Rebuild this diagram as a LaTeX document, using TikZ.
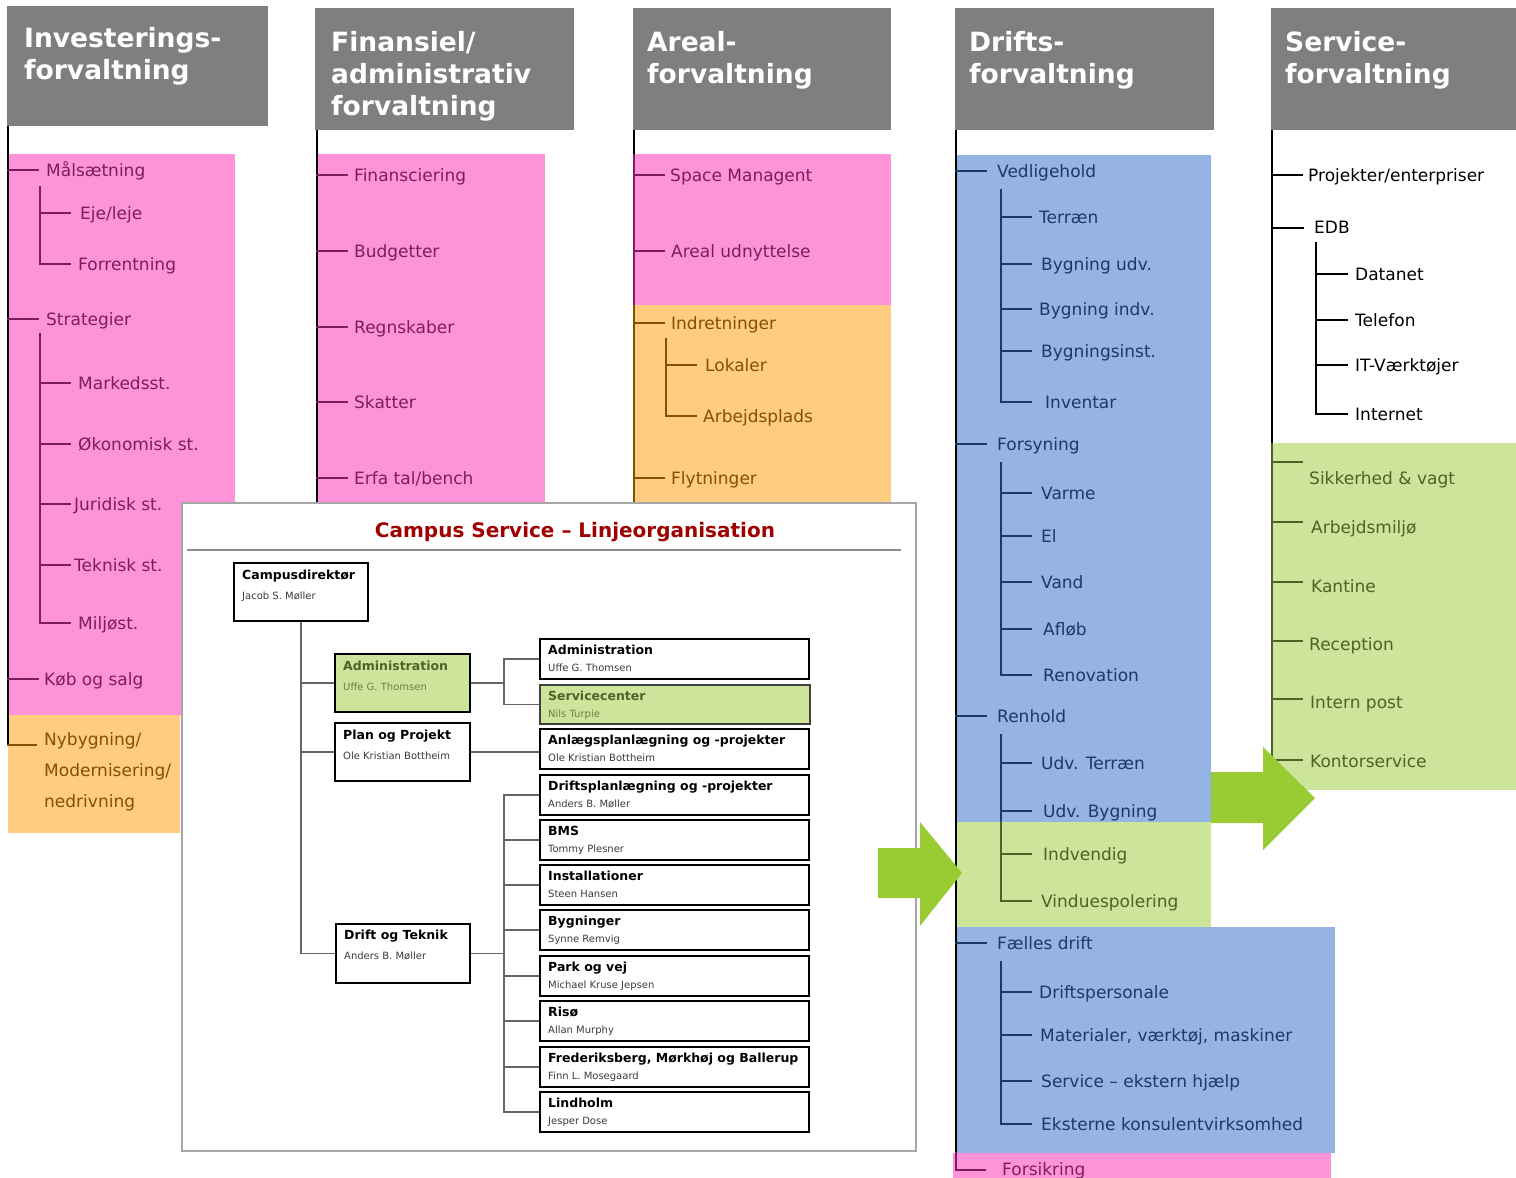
\documentclass[tikz,border=0pt]{standalone}
\usepackage{fontspec}
\setmainfont{DejaVu Sans}
\usetikzlibrary{calc}

\definecolor{headgray}{HTML}{7F7F7F}
\definecolor{pinkbg}{HTML}{FF93D9}
\definecolor{pinktx}{HTML}{7A1E5E}
\definecolor{orangebg}{HTML}{FFCC80}
\definecolor{orangetx}{HTML}{7F5300}
\definecolor{bluebg}{HTML}{95B3E3}
\definecolor{bluetx}{HTML}{1F3864}
\definecolor{greenbg}{HTML}{CDE49B}
\definecolor{greentx}{HTML}{4F6228}
\definecolor{greenname}{HTML}{6E7F45}
\definecolor{arrowgreen}{HTML}{99CC33}
\definecolor{titlered}{HTML}{A00000}
\definecolor{framegray}{HTML}{A6A6A6}
\definecolor{rulegray}{HTML}{8C8C8C}
\definecolor{linkgray}{HTML}{666666}
\definecolor{namegray}{HTML}{3A3A3A}

\begin{document}
\begin{tikzpicture}[x=1pt, y=-1pt,
  headbox/.style={fill=headgray, draw=none, anchor=north west, inner sep=0pt},
  headtext/.style={anchor=north west, inner sep=0pt, text=white, align=left,
    font=\fontsize{26.5}{32}\selectfont\bfseries},
  lbl/.style={anchor=west, inner sep=0pt, font=\fontsize{17}{20}\selectfont,
    text height=12pt, text depth=0pt},
  multilbl/.style={anchor=north west, inner sep=0pt, align=left,
    font=\fontsize{17}{31}\selectfont},
  trunk/.style={line width=2pt, draw=black},
  twig/.style={line width=2pt, line cap=rect},
  obox/.style={draw=black, line width=2pt, fill=white, anchor=north west, inner sep=0pt},
  otitle/.style={anchor=base west, inner sep=0pt, font=\fontsize{12.5}{14}\selectfont\bfseries},
  oname/.style={anchor=base west, inner sep=0pt, font=\fontsize{10}{12}\selectfont, text=namegray},
  olink/.style={draw=linkgray, line width=1.3pt},
  bigarrow/.style={fill=arrowgreen, draw=none}
]
\useasboundingbox (0,0) rectangle (1516,1178);

% ---------- coloured bands behind the trees
\fill[pinkbg] (8,154) rectangle (235,715);
\fill[orangebg] (8,715) rectangle (180,833);
\fill[pinkbg] (317,154) rectangle (545,502);
\fill[pinkbg] (634,154) rectangle (891,305);
\fill[orangebg] (634,305) rectangle (891,502);
\fill[bluebg] (956,155) rectangle (1211,822);
\fill[greenbg] (956,822) rectangle (1211,927);
\fill[bluebg] (956,927) rectangle (1335,1153);
\fill[pinkbg] (953,1153) rectangle (1331,1178);
\fill[greenbg] (1271,443) rectangle (1516,790);

% ---------- column headers
\node[headbox, minimum width=261pt, minimum height=120pt] (hInv) at (7,6) {};
\node[headbox, minimum width=259pt, minimum height=122pt] (hFin) at (315,8) {};
\node[headbox, minimum width=258pt, minimum height=122pt] (hAre) at (633,8) {};
\node[headbox, minimum width=259pt, minimum height=122pt] (hDri) at (955,8) {};
\node[headbox, minimum width=245pt, minimum height=122pt] (hSer) at (1271,8) {};
\node[headtext] (hInvT) at (24,27) {Investerings-\\forvaltning};
\node[headtext] (hFinT) at (331,31) {Finansiel/\\administrativ\\forvaltning};
\node[headtext] (hAreT) at (647,31) {Areal-\\forvaltning};
\node[headtext] (hDriT) at (969,31) {Drifts-\\forvaltning};
\node[headtext] (hSerT) at (1285,31) {Service-\\forvaltning};

% ---------- trunk anchors
\coordinate (invT) at ([xshift=1pt]hInv.south west);
\coordinate (finT) at ([xshift=2pt]hFin.south west);
\coordinate (areT) at ([xshift=1pt]hAre.south west);
\coordinate (driT) at ([xshift=1pt]hDri.south west);
\coordinate (serT) at ([xshift=1pt]hSer.south west);

% ================= Investeringsforvaltning
\draw[trunk] (invT) -- (8,745);
\foreach \nm/\x/\y/\tx in {iMaal/46/170/Målsætning, iStrat/46/319/Strategier, iKoeb/44/679/{Køb og salg}}{
  \node[lbl, text=pinktx] (\nm) at (\x,\y) {\tx};
  \draw[twig, pinktx] (invT |- \nm.west) -- ++(30,0);
}
\coordinate (invS1) at (40,187);
\coordinate (invS2) at (40,334);
\foreach \nm/\x/\y/\tx in {iEje/80/213/{Eje/leje}, iForr/78/264/Forrentning}{
  \node[lbl, text=pinktx] (\nm) at (\x,\y) {\tx};
  \draw[twig, pinktx] (invS1 |- \nm.west) -- ++(30,0);
}
\draw[twig, pinktx] (invS1) -- (invS1 |- iForr.west);
\foreach \nm/\x/\y/\tx in {iMark/78/383/Markedsst., iOek/78/444/{Økonomisk st.}, iJur/74/504/{Juridisk st.}, iTek/74/565/{Teknisk st.}, iMil/78/623/Miljøst.}{
  \node[lbl, text=pinktx] (\nm) at (\x,\y) {\tx};
  \draw[twig, pinktx] (invS2 |- \nm.west) -- ++(30,0);
}
\draw[twig, pinktx] (invS2) -- (invS2 |- iMil.west);
\node[multilbl, text=orangetx] (iNyb) at (44,732) {Nybygning/\\Modernisering/\\nedrivning};
\draw[twig, orangetx] (8,745) -- (36,745);

% ================= Finansiel/administrativ forvaltning
\draw[trunk] (finT) -- (317,502);
\foreach \nm/\y/\tx in {fFin/175/Finansciering, fBud/251/Budgetter, fReg/327/Regnskaber, fSka/402/Skatter, fErf/478/{Erfa tal/bench}}{
  \node[lbl, text=pinktx] (\nm) at (354,\y) {\tx};
  \draw[twig, pinktx] (finT |- \nm.west) -- ++(30,0);
}

% ================= Arealforvaltning
\draw[trunk] (areT) -- (634,154);
\draw[trunk, draw=pinktx] (634,154) -- (634,305);
\draw[trunk, draw=orangetx] (634,305) -- (634,502);
\foreach \nm/\x/\y/\tx/\c in {aSpa/670/175/{Space Managent}/pinktx, aAre/671/251/{Areal udnyttelse}/pinktx, aInd/671/323/Indretninger/orangetx, aFly/671/478/Flytninger/orangetx}{
  \node[lbl, text=\c] (\nm) at (\x,\y) {\tx};
  \draw[twig, \c] (areT |- \nm.west) -- ++(30,0);
}
\coordinate (areS1) at (666,339);
\foreach \nm/\x/\y/\tx in {aLok/705/365/Lokaler, aArb/703/416/Arbejdsplads}{
  \node[lbl, text=orangetx] (\nm) at (\x,\y) {\tx};
  \draw[twig, orangetx] (areS1 |- \nm.west) -- ++(30,0);
}
\draw[twig, orangetx] (areS1) -- (areS1 |- aArb.west);

% ================= Driftsforvaltning
\draw[trunk] (driT) -- (956,1153);
\draw[twig, pinktx] (956,1153) |- (985,1170);
\node[lbl, text=pinktx] (dFors) at (1002,1169) {Forsikring};
\foreach \nm/\y/\tx in {dVed/171/Vedligehold, dFor/444/Forsyning, dRen/716/Renhold, dFae/943/{Fælles drift}}{
  \node[lbl, text=bluetx] (\nm) at (997,\y) {\tx};
  \draw[twig, bluetx] (driT |- \nm.west) -- ++(30,0);
}
\coordinate (driS1) at (1001,190);
\coordinate (driS2) at (1001,463);
\coordinate (driS3) at (1001,735);
\coordinate (driS4) at (1001,962);
\foreach \nm/\x/\y/\tx in {dTer/1039/217/Terræn, dByu/1041/264/{Bygning udv.}, dByi/1039/309/{Bygning indv.}, dBys/1041/351/Bygningsinst., dInv/1045/402/Inventar}{
  \node[lbl, text=bluetx] (\nm) at (\x,\y) {\tx};
  \draw[twig, bluetx] (driS1 |- \nm.west) -- ++(30,0);
}
\draw[twig, bluetx] (driS1) -- (driS1 |- dInv.west);
\foreach \nm/\x/\y/\tx in {dVar/1041/493/Varme, dEl/1041/536/El, dVan/1041/582/Vand, dAfl/1043/629/Afløb, dRev/1043/675/Renovation}{
  \node[lbl, text=bluetx] (\nm) at (\x,\y) {\tx};
  \draw[twig, bluetx] (driS2 |- \nm.west) -- ++(30,0);
}
\draw[twig, bluetx] (driS2) -- (driS2 |- dRev.west);
\foreach \nm/\x/\y/\tx/\c in {dUte/1041/763/{Udv. Terræn}/bluetx, dUby/1043/811/{Udv. Bygning}/bluetx, dInd/1043/854/Indvendig/greentx, dVin/1041/901/Vinduespolering/greentx}{
  \node[lbl, text=\c] (\nm) at (\x,\y) {\tx};
  \draw[twig, \c] (driS3 |- \nm.west) -- ++(30,0);
}
\draw[twig, bluetx] (driS3) -- (1001,822);
\draw[twig, greentx] (1001,822) -- (driS3 |- dVin.west);
\foreach \nm/\x/\y/\tx in {dDri/1039/992/Driftspersonale, dMat/1040/1035/{Materialer, værktøj, maskiner}, dSer/1041/1081/{Service – ekstern hjælp}, dEks/1041/1124/{Eksterne konsulentvirksomhed}}{
  \node[lbl, text=bluetx] (\nm) at (\x,\y) {\tx};
  \draw[twig, bluetx] (driS4 |- \nm.west) -- ++(30,0);
}
\draw[twig, bluetx] (driS4) -- (driS4 |- dEks.west);

% ================= Serviceforvaltning
\draw[trunk] (serT) -- (1272,443);
\draw[trunk, draw=greentx] (1272,443) -- (1272,760);
\node[lbl] (sPro) at (1308,175) {Projekter/enterpriser};
\draw[twig] (serT |- sPro.west) -- ++(30,0);
\node[lbl] (sEdb) at (1314,227) {EDB};
\draw[twig] ([yshift=-1pt]serT |- sEdb.west) -- ++(31,0);
\coordinate (serS1) at (1316,243);
\foreach \nm/\y/\tx in {sDat/274/Datanet, sTel/320/Telefon, sItv/365/IT-Værktøjer, sInt/414/Internet}{
  \node[lbl] (\nm) at (1355,\y) {\tx};
  \draw[twig] (serS1 |- \nm.west) -- ++(31,0);
}
\draw[twig] (serS1) -- (serS1 |- sInt.west);
\foreach \nm/\x/\y/\ly/\tx in {sSik/1309/478/462/{Sikkerhed \& vagt}, sArb/1311/527/522/Arbejdsmiljø, sKan/1311/586/582/Kantine, sRec/1309/644/641/Reception, sPos/1310/702/699/{Intern post}, sKon/1310/761/760/Kontorservice}{
  \node[lbl, text=greentx] (\nm) at (\x,\y) {\tx};
  \draw[twig, greentx] (1272,\ly) -- ++(30,0);
}

% ================= Campus Service line organisation
\node[draw=framegray, line width=1.5pt, fill=white, anchor=north west, inner sep=0pt,
  minimum width=734pt, minimum height=648pt] (chart) at (181,502) {};
\node[font=\fontsize{20}{24}\selectfont\bfseries, text=titlered, inner sep=0pt] (ctitle) at (575,532)
  {Campus Service – Linjeorganisation};
\draw[rulegray, line width=2pt] (187,550) -- (901,550);

% left column of units
\node[obox, minimum width=134pt, minimum height=58pt] (oCam) at (233,562) {};
\node[otitle] (oCamT) at ([shift={(9pt,-17.5pt)}]oCam.north west) {Campusdirektør};
\node[oname] (oCamN) at ([shift={(9pt,-37.5pt)}]oCam.north west) {Jacob S. Møller};

\node[obox, fill=greenbg, minimum width=135pt, minimum height=58pt] (oAdm) at (334,653) {};
\node[otitle, text=greentx] (oAdmT) at ([shift={(9pt,-17.5pt)}]oAdm.north west) {Administration};
\node[oname, text=greenname] (oAdmN) at ([shift={(9pt,-37.5pt)}]oAdm.north west) {Uffe G. Thomsen};

\node[obox, minimum width=135pt, minimum height=58pt] (oPla) at (334,722) {};
\node[otitle] (oPlaT) at ([shift={(9pt,-17.5pt)}]oPla.north west) {Plan og Projekt};
\node[oname] (oPlaN) at ([shift={(9pt,-37.5pt)}]oPla.north west) {Ole Kristian Bottheim};

\node[obox, minimum width=134pt, minimum height=59pt] (oDri) at (335,923) {};
\node[otitle] (oDriT) at ([shift={(9pt,-16.5pt)}]oDri.north west) {Drift og Teknik};
\node[oname] (oDriN) at ([shift={(9pt,-36.5pt)}]oDri.north west) {Anders B. Møller};

% right column of units
\foreach \nm/\y/\tx/\pn in {r1/638/Administration/{Uffe G. Thomsen}, r3/728/{Anlægsplanlægning og -projekter}/{Ole Kristian Bottheim}, r4/774/{Driftsplanlægning og -projekter}/{Anders B. Møller}, r5/819/BMS/{Tommy Plesner}, r6/864/Installationer/{Steen Hansen}, r7/909/Bygninger/{Synne Remvig}, r8/955/{Park og vej}/{Michael Kruse Jepsen}, r9/1000/Risø/{Allan Murphy}, r10/1046/{Frederiksberg, Mørkhøj og Ballerup}/{Finn L. Mosegaard}, r11/1091/Lindholm/{Jesper Dose}}{
  \node[obox, minimum width=269pt, minimum height=40pt] (\nm) at (539,\y) {};
  \node[otitle] (\nm T) at ([shift={(9pt,-16.5pt)}]\nm.north west) {\tx};
  \node[oname] (\nm N) at ([shift={(9pt,-33.5pt)}]\nm.north west) {\pn};
}
\node[obox, draw=black!75, fill=greenbg, minimum width=270pt, minimum height=39pt] (r2) at (539,684) {};
\node[otitle, text=greentx] (r2T) at ([shift={(9pt,-16.5pt)}]r2.north west) {Servicecenter};
\node[oname, text=greenname] (r2N) at ([shift={(9pt,-33.5pt)}]r2.north west) {Nils Turpie};

% reporting lines
\coordinate (j1) at (504,682);
\coordinate (j2) at (504,953);
\draw[olink] (oCam.south) -- (oCam.south |- oDri.west) -- (oDri.west);
\draw[olink] (oCam.south |- oAdm.west) -- (oAdm.west);
\draw[olink] (oCam.south |- oPla.west) -- (oPla.west);
\draw[olink] (oAdm.east) -- (oAdm.east -| j1);
\draw[olink] (r1.west) -- (r1.west -| j1) -- (r2.west -| j1) -- (r2.west);
\draw[olink] (oPla.east) -- (oPla.east -| r3.west);
\draw[olink] (oDri.east) -- (oDri.east -| j2);
\draw[olink] (r4.west) -- (r4.west -| j2) -- (r11.west -| j2) -- (r11.west);
\foreach \nm in {r5,r6,r7,r8,r9,r10}{
  \draw[olink] (\nm.west -| j2) -- (\nm.west);
}

% ---------- green block arrows
\fill[bigarrow] (878,848) -- (920,848) -- (920,822) -- (962,873) -- (920,926) -- (920,898) -- (878,898) -- cycle;
\fill[bigarrow] (1211,772) -- (1263,772) -- (1263,747) -- (1315,798) -- (1263,850) -- (1263,823) -- (1211,823) -- cycle;

\end{tikzpicture}
\end{document}
